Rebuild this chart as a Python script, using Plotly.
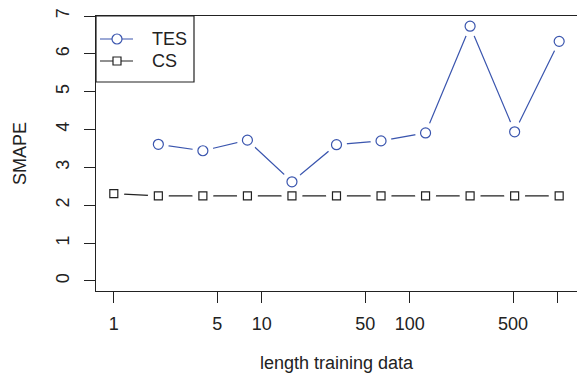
import plotly.graph_objects as go

# Length of the training data (powers of two) and SMAPE of each method
length_cs = [1, 2, 4, 8, 16, 32, 64, 128, 256, 512, 1024]
smape_cs = [2.31, 2.25, 2.25, 2.25, 2.25, 2.25, 2.25, 2.25, 2.25, 2.25, 2.25]

length_tes = [2, 4, 8, 16, 32, 64, 128, 256, 512, 1024]
smape_tes = [3.61, 3.44, 3.72, 2.62, 3.60, 3.70, 3.91, 6.73, 3.94, 6.33]

x_tickvals = [1, 5, 10, 50, 100, 500, 1000]
x_ticktext = ["1", "5", "10", "50", "100", "500", ""]
y_tickvals = [0, 1, 2, 3, 4, 5, 6, 7]

series_names = ["TES", "CS"]

BLUE = "#3a55ae"
INK = "#222222"
FONT = "Liberation Sans, Arial, sans-serif"
FS = 18

fig = go.Figure()

# Connecting lines
fig.add_trace(go.Scatter(
    x=length_tes, y=smape_tes, mode="lines",
    line=dict(color=BLUE, width=1.2), hoverinfo="skip"))
fig.add_trace(go.Scatter(
    x=length_cs, y=smape_cs, mode="lines",
    line=dict(color=INK, width=1.2), hoverinfo="skip"))

# White discs open a small gap in the lines around every point
fig.add_trace(go.Scatter(
    x=length_tes + length_cs, y=smape_tes + smape_cs, mode="markers",
    marker=dict(symbol="circle", size=21, color="white", line=dict(width=0)),
    hoverinfo="skip"))

# Point symbols on top of the gaps
fig.add_trace(go.Scatter(
    x=length_tes, y=smape_tes, mode="markers",
    marker=dict(symbol="circle-open", size=10, color=BLUE,
                line=dict(color=BLUE, width=1.2)),
    hoverinfo="skip"))
fig.add_trace(go.Scatter(
    x=length_cs, y=smape_cs, mode="markers",
    marker=dict(symbol="square-open", size=8, color=INK,
                line=dict(color=INK, width=1.2)),
    hoverinfo="skip"))

# Boxed legend in the top-left corner, laid out in pixels from that corner
def px_shape(kind, x0, x1, y0, y1, **kw):
    return dict(type=kind, xref="paper", yref="paper",
                xsizemode="pixel", ysizemode="pixel",
                xanchor=0, yanchor=1, x0=x0, x1=x1, y0=-y0, y1=-y1,
                layer="above", **kw)

shapes = [px_shape("rect", 0, 98, 0, 66,
                   line=dict(color=INK, width=1.2), fillcolor="white")]
annotations = []
row_y = [23, 45]
colors = [BLUE, INK]
for i, (name, col) in enumerate(zip(series_names, colors)):
    yc = row_y[i]
    shapes.append(px_shape("line", 4, 37, yc, yc, line=dict(color=col, width=1.2)))
    if i == 0:
        shapes.append(px_shape("circle", 16, 26, yc - 5, yc + 5,
                               line=dict(color=col, width=1.2), fillcolor="white"))
    else:
        shapes.append(px_shape("rect", 17, 25, yc - 4, yc + 4,
                               line=dict(color=col, width=1.2), fillcolor="white"))
    annotations.append(dict(
        text=name, xref="paper", yref="paper", x=0, y=1,
        xshift=54, yshift=-yc, xanchor="left", yanchor="middle",
        showarrow=False, font=dict(size=FS, color=INK, family=FONT)))

# x-axis title, set lower under the tick labels
annotations.append(dict(
    text="length training data", xref="paper", yref="paper", x=0.5, y=0,
    yshift=-60, xanchor="center", yanchor="top", showarrow=False,
    font=dict(size=FS, color=INK, family=FONT)))

fig.update_layout(
    width=577, height=375,
    margin=dict(l=96, r=0, t=16, b=84, pad=0),
    paper_bgcolor="white", plot_bgcolor="white",
    font=dict(family=FONT, size=FS, color=INK),
    showlegend=False,
    shapes=shapes, annotations=annotations,
    xaxis=dict(
        type="log", range=[-0.1204, 3.1308], automargin=False,
        tickvals=x_tickvals, ticktext=x_ticktext,
        ticks="outside", ticklen=11, tickwidth=1.2, tickcolor=INK,
        showline=True, linecolor=INK, linewidth=1.2, mirror=True,
        showgrid=False, zeroline=False,
        ticklabelstandoff=5),
    yaxis=dict(
        range=[-0.265, 7.0], automargin=False,
        tickvals=y_tickvals, tickangle=-90,
        ticks="outside", ticklen=11, tickwidth=1.2, tickcolor=INK,
        showline=True, linecolor=INK, linewidth=1.2, mirror=False,
        showgrid=False, zeroline=False,
        ticklabelstandoff=8,
        title=dict(text="SMAPE", standoff=21,
                   font=dict(size=FS, color=INK))),
)

fig.write_html("out.html")
